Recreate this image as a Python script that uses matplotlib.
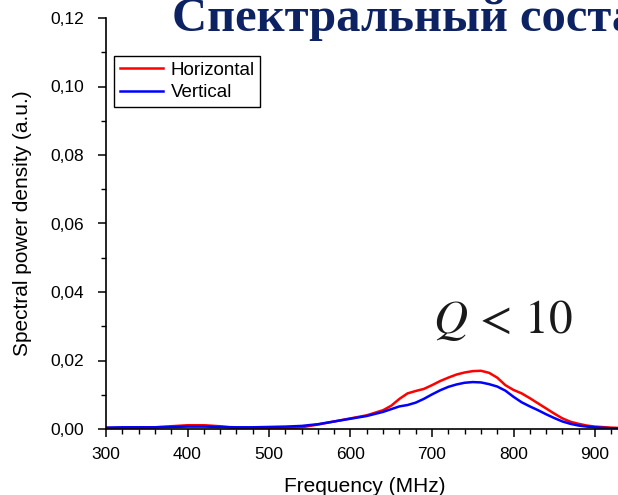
"""
Spectral power density, horizontal vs vertical (cropped slide figure).
"""

import matplotlib
matplotlib.use('Agg')
import matplotlib.pyplot as plt
from matplotlib.ticker import MultipleLocator, FuncFormatter


# Data
FREQ = [300, 320, 340, 360, 380, 400, 420, 440, 460, 480, 500, 520, 540, 560,
        580, 600, 620, 640, 650, 660, 670, 680, 690, 700, 710, 720, 730, 740,
        750, 760, 770, 780, 790, 800, 810, 820, 830, 840, 850, 860, 870, 880,
        890, 900, 920, 940]

HORIZONTAL = [0.0003, 0.0003, 0.0004, 0.0005, 0.0008, 0.0011, 0.0011, 0.0008,
              0.0003, 0.0001, 0.0001, 0.0002, 0.0005, 0.0013, 0.0022, 0.0031,
              0.0040, 0.0055, 0.0068, 0.0088, 0.0104, 0.0111, 0.0117, 0.0128,
              0.0140, 0.0150, 0.0159, 0.0165, 0.0169, 0.0170, 0.0164, 0.0150,
              0.0128, 0.0114, 0.0104, 0.0090, 0.0075, 0.0060, 0.0045, 0.0031,
              0.0021, 0.0015, 0.0010, 0.0007, 0.0004, 0.0002]

VERTICAL = [0.0004, 0.0005, 0.0005, 0.0005, 0.0006, 0.0007, 0.0007, 0.0006,
            0.0005, 0.0005, 0.0006, 0.0007, 0.0009, 0.0014, 0.0022, 0.0030,
            0.0038, 0.0050, 0.0058, 0.0066, 0.0070, 0.0077, 0.0088, 0.0101,
            0.0113, 0.0123, 0.0130, 0.0135, 0.0137, 0.0136, 0.0131, 0.0124,
            0.0112, 0.0094, 0.0078, 0.0066, 0.0055, 0.0043, 0.0032, 0.0022,
            0.0015, 0.0010, 0.0007, 0.0005, 0.0002, 0.0001]

SERIES_LABELS = ['Horizontal', 'Vertical']
TITLE = 'Спектральный состав'

plt.rcParams['font.family'] = ['Liberation Sans', 'DejaVu Sans']
plt.rcParams['mathtext.fontset'] = 'stix'

W, H = 618, 495
fig = plt.figure(figsize=(W / 100, H / 100), dpi=100)

# axes runs off the right edge like the cropped original
x0, x1 = 300, 935
left_px, top_px, bottom_px = 106, 18, 429
px_per_mhz = 0.815
ax = fig.add_axes([left_px / W, 1 - bottom_px / H,
                   (x1 - x0) * px_per_mhz / W, (bottom_px - top_px) / H])

ax.plot(FREQ, HORIZONTAL, color='#ff0000', lw=1.8, label=SERIES_LABELS[0])
ax.plot(FREQ, VERTICAL, color='#0000ff', lw=1.8, label=SERIES_LABELS[1])

ax.set_xlim(x0, x1)
ax.set_ylim(0, 0.12)
ax.xaxis.set_major_locator(MultipleLocator(100))
ax.xaxis.set_minor_locator(MultipleLocator(20))
ax.yaxis.set_major_locator(MultipleLocator(0.02))
ax.yaxis.set_minor_locator(MultipleLocator(0.01))
ax.yaxis.set_major_formatter(FuncFormatter(lambda v, p: f'{v:.2f}'.replace('.', ',')))

for side in ('top', 'right'):
    ax.spines[side].set_visible(False)
for side in ('left', 'bottom'):
    ax.spines[side].set_linewidth(1.2)
ax.tick_params(which='major', direction='out', length=6, width=1.1, labelsize=12.5)
ax.tick_params(axis='y', which='major', pad=10)
ax.tick_params(axis='x', which='major', pad=7)
ax.tick_params(which='minor', direction='out', length=3.5, width=1.0)

ax.set_xlabel('Frequency (MHz)', fontsize=15, labelpad=11)
ax.set_ylabel('Spectral power density (a.u.)', fontsize=15, labelpad=13)

leg = ax.legend(loc='upper left', bbox_to_anchor=(0.016, 0.908), fontsize=13.5,
                frameon=True, fancybox=False, edgecolor='black', framealpha=1,
                handlelength=2.3, handletextpad=0.4, labelspacing=0.3,
                borderpad=0.3, borderaxespad=0)
leg.get_frame().set_linewidth(1.0)

ax.text(0.632, 0.234, r'$Q\,<\,10$', transform=ax.transAxes, fontsize=34,
        color='#1a1a1a', ha='left', va='baseline')

fig.text(172 / W, 1 - 31 / H, TITLE, fontsize=35, fontweight='bold',
         family='Liberation Serif', color='#0d2262', ha='left', va='baseline')

fig.savefig('out.png', dpi=100)
